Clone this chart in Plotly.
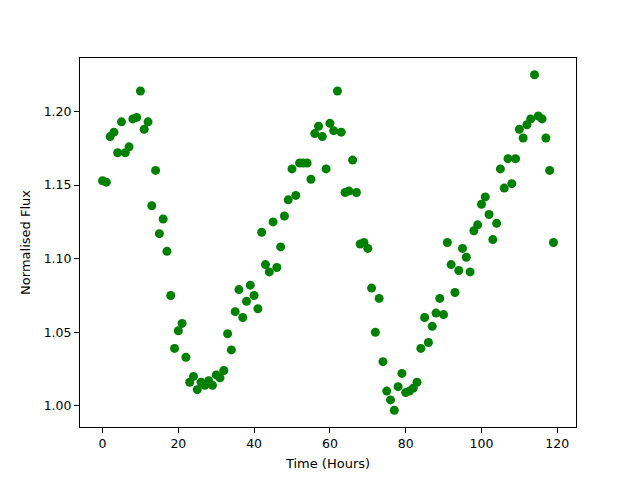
import plotly.graph_objects as go

hours = list(range(120))
flux = [
    1.153, 1.152, 1.183, 1.186, 1.172, 1.193, 1.172, 1.176, 1.195, 1.196,
    1.214, 1.188, 1.193, 1.136, 1.160, 1.117, 1.127, 1.105, 1.075, 1.039,
    1.051, 1.056, 1.033, 1.016, 1.020, 1.011, 1.016, 1.014, 1.017, 1.014,
    1.021, 1.019, 1.024, 1.049, 1.038, 1.064, 1.079, 1.060, 1.071, 1.082,
    1.075, 1.066, 1.118, 1.096, 1.091, 1.125, 1.094, 1.108, 1.129, 1.140,
    1.161, 1.143, 1.165, 1.165, 1.165, 1.154, 1.185, 1.190, 1.183, 1.161,
    1.192, 1.187, 1.214, 1.186, 1.145, 1.146, 1.167, 1.145, 1.110, 1.111,
    1.107, 1.080, 1.050, 1.073, 1.030, 1.010, 1.004, 0.997, 1.013, 1.022,
    1.009, 1.010, 1.012, 1.016, 1.039, 1.060, 1.043, 1.054, 1.063, 1.073,
    1.062, 1.111, 1.096, 1.077, 1.092, 1.107, 1.101, 1.091, 1.119, 1.123,
    1.137, 1.142, 1.130, 1.113, 1.124, 1.161, 1.148, 1.168, 1.151, 1.168,
    1.188, 1.182, 1.191, 1.195, 1.225, 1.197, 1.195, 1.182, 1.160, 1.111,
]
x_ticks = [0, 20, 40, 60, 80, 100, 120]
y_ticks = [1.00, 1.05, 1.10, 1.15, 1.20]

fig = go.Figure(go.Scatter(
    x=hours, y=flux, mode="markers",
    marker=dict(color="#008000", size=9, line=dict(width=0)),
))

axis_common = dict(
    showline=True, linecolor="black", linewidth=1, mirror=True,
    ticks="outside", ticklen=5, tickwidth=1, tickcolor="black",
    showgrid=False, zeroline=False,
    tickfont=dict(family="DejaVu Sans", size=12.5, color="black"),
)

fig.update_layout(
    width=640, height=480,
    margin=dict(l=72, r=72, t=50, b=61),
    paper_bgcolor="white", plot_bgcolor="white",
    showlegend=False,
    font=dict(family="DejaVu Sans", size=13, color="black"),
    xaxis=dict(range=[-5.95, 124.95], tickvals=x_ticks,
               title=dict(text="Time (Hours)", standoff=8,
                          font=dict(family="DejaVu Sans", size=13, color="black")),
               **axis_common),
    yaxis=dict(range=[0.9856, 1.2364], tickvals=y_ticks, tickformat=".2f",
               title=dict(text="Normalised Flux", standoff=10,
                          font=dict(family="DejaVu Sans", size=13, color="black")),
               **axis_common),
)

fig.write_html("out.html")
